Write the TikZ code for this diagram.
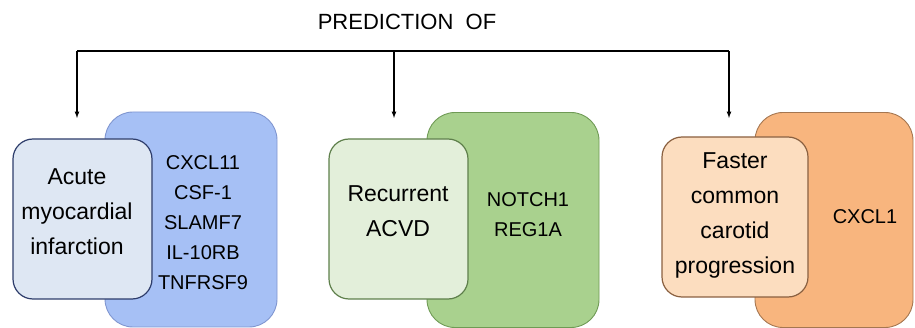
\documentclass[tikz,border=0pt]{standalone}
\usepackage{fontspec}
\setmainfont{Liberation Sans}
\usetikzlibrary{positioning}
\definecolor{bigblue}{HTML}{A6C0F5}
\definecolor{bigblueline}{HTML}{8096D0}
\definecolor{lightblue}{HTML}{DEE7F3}
\definecolor{lightblueline}{HTML}{2E3D6B}
\definecolor{biggreen}{HTML}{A9D18E}
\definecolor{biggreenline}{HTML}{6F9A55}
\definecolor{lightgreen}{HTML}{E3EFDA}
\definecolor{lightgreenline}{HTML}{5E7F4B}
\definecolor{bigorange}{HTML}{F8B57E}
\definecolor{bigorangeline}{HTML}{A57650}
\definecolor{lightorange}{HTML}{FCDDBF}
\definecolor{lightorangeline}{HTML}{8A6040}
\tikzset{
  genebox/.style={rectangle,rounded corners=28pt,line width=0.9pt,minimum width=172pt,minimum height=215pt,inner sep=0pt},
  outcomebox/.style={rectangle,rounded corners=20pt,line width=1.2pt,minimum width=139pt,minimum height=160pt,inner sep=0pt},
  outcometext/.style={align=center,inner sep=0pt,font=\fontsize{23}{35}\selectfont},
  genetext/.style={align=center,inner sep=0pt,font=\fontsize{20}{30}\selectfont},
  link/.style={line width=1.2pt}
}
\begin{document}
\begin{tikzpicture}[x=1pt,y=-1pt]
\useasboundingbox (0,0) rectangle (915,328);
\node [font=\fontsize{22}{26}\selectfont] (title) at (407,22) {PREDICTION\ \ OF};
% blue group
\node [genebox,fill=bigblue,draw=bigblueline] (amigenes) at (191,219.5) {};
\node [outcomebox,fill=lightblue,draw=lightblueline] (ami) at (82.5,219) {};
\node [outcometext] (amitext) at (77,212) {Acute\\myocardial\\infarction};
\node [genetext] (amigenetext) at (203,223) {CXCL11\\CSF-1\\SLAMF7\\IL-10RB\\TNFRSF9};
% green group
\node [genebox,fill=biggreen,draw=biggreenline] (acvdgenes) at (513,220) {};
\node [outcomebox,fill=lightgreen,draw=lightgreenline] (acvd) at (398.5,219) {};
\node [outcometext] (acvdtext) at (398,211.5) {Recurrent\\ACVD};
\node [genetext] (acvdgenetext) at (528,215) {NOTCH1\\REG1A};
% orange group
\node [genebox,fill=bigorange,draw=bigorangeline,minimum width=158pt] (cimtgenes) at (834,220) {};
\node [outcomebox,fill=lightorange,draw=lightorangeline,minimum width=146pt] (cimt) at (735,217) {};
\node [outcometext] (cimttext) at (735,215) {Faster\\common\\carotid\\progression};
\node [genetext] (cimtgenetext) at (865,217) {CXCL1};
% arrows
\coordinate (j1) at (77,51);
\coordinate (j2) at (394,51);
\coordinate (j3) at (729,51);
\coordinate (e1) at (77,118);
\coordinate (e2) at (394,118);
\coordinate (e3) at (729,118);
\draw [link] (j1) -- (j3);
\draw [link,-latex] (j1) -- (e1);
\draw [link,-latex] (j2) -- (e2);
\draw [link,-latex] (j3) -- (e3);
\end{tikzpicture}
\end{document}
